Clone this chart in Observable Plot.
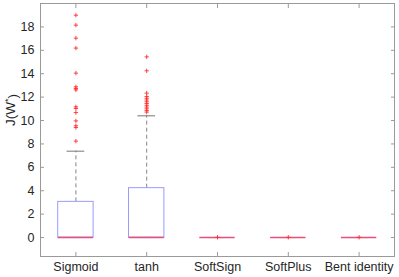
<!DOCTYPE html>
<html>
<head>
<meta charset="utf-8">
<script src="https://cdn.jsdelivr.net/npm/d3@7"></script>
<script src="https://cdn.jsdelivr.net/npm/@observablehq/plot@0.6"></script>
<style>
  html, body { margin: 0; padding: 0; background: #fff; }
  #chart svg { display: block; }
</style>
</head>
<body>
<div id="chart"></div>
<script>
// Categories and box statistics
const names = ["Sigmoid", "tanh", "SoftSign", "SoftPlus", "Bent identity"];
const q1 = [0, 0, 0, 0, 0];
const medians = [0, 0, 0, 0, 0];
const q3 = [3.05, 4.22, 0, 0, 0];
const whiskerLow = [0, 0, 0, 0, 0];
const whiskerHigh = [7.38, 10.4, 0, 0, 0];

// Outliers per category
const sigmoidOutliers = [8.24, 9.4, 9.55, 9.97, 10.68, 11.03, 11.17, 12.62, 12.74, 12.88, 14.05, 16.19, 17.04, 18.15, 19.0];
const tanhOutliers = [10.72, 10.85, 11.0, 11.15, 11.3, 11.45, 11.6, 11.75, 11.9, 12.05, 12.34, 14.25, 15.44];
const softSignOutliers = [0.02];
const softPlusOutliers = [0.02];
const bentOutliers = [0.02];

const yTicks = [0, 2, 4, 6, 8, 10, 12, 14, 16, 18];

const boxes = names.map((n, i) => ({
  pos: i + 1, name: n, q1: q1[i], med: medians[i], q3: q3[i], lo: whiskerLow[i], hi: whiskerHigh[i]
}));
const outlierLists = [sigmoidOutliers, tanhOutliers, softSignOutliers, softPlusOutliers, bentOutliers];
const outliers = outlierLists.flatMap((arr, i) => arr.map(v => ({pos: i + 1, value: v})));

const boxHalf = 0.25, capHalf = 0.125;
const font = "'Liberation Sans', Arial, Helvetica, sans-serif";
const axisColor = "#9a9a9a";

const chart = Plot.plot({
  width: 399,
  height: 277,
  marginLeft: 40,
  marginRight: 5,
  marginTop: 3,
  marginBottom: 21,
  style: {fontFamily: font, fontSize: "12.5px", color: "#262626", background: "#fff"},
  x: {type: "linear", domain: [0.5, 5.5]},
  y: {domain: [-1.62, 20]},
  marks: [
    // whiskers (dashed)
    Plot.ruleX(boxes, {x: "pos", y1: "q3", y2: "hi", stroke: "#666", strokeWidth: 0.8, strokeDasharray: "4,3"}),
    Plot.ruleX(boxes, {x: "pos", y1: "lo", y2: "q1", stroke: "#666", strokeWidth: 0.8, strokeDasharray: "4,3"}),
    // whisker caps
    Plot.ruleY(boxes, {y: "hi", x1: d => d.pos - capHalf, x2: d => d.pos + capHalf, stroke: "#777", strokeWidth: 1}),
    Plot.ruleY(boxes, {y: "lo", x1: d => d.pos - capHalf, x2: d => d.pos + capHalf, stroke: "#777", strokeWidth: 1}),
    // boxes
    Plot.rect(boxes, {x1: d => d.pos - boxHalf, x2: d => d.pos + boxHalf, y1: "q1", y2: "q3", fill: "none", stroke: "#9a9aff", strokeWidth: 1}),
    // medians
    Plot.ruleY(boxes, {y: "med", x1: d => d.pos - boxHalf, x2: d => d.pos + boxHalf, stroke: "#e8507c", strokeWidth: 1.6}),
    // outliers
    Plot.dot(outliers, {x: "pos", y: "value", symbol: "plus", r: 1.5, stroke: "#ff3030", strokeWidth: 0.9}),
    // frame & axes
    Plot.frame({stroke: axisColor, strokeWidth: 1}),
    Plot.axisY({anchor: "left", ticks: yTicks, tickSize: -4, tickPadding: 10, label: null, stroke: axisColor, fontSize: "12.5px"}),
    Plot.axisY({anchor: "right", ticks: yTicks, tickSize: -4, tickFormat: () => "", label: null, stroke: axisColor}),
    Plot.axisX({anchor: "bottom", ticks: [1, 2, 3, 4, 5], tickSize: -4, tickPadding: 10, tickFormat: d => names[d - 1], label: null, stroke: axisColor, fontSize: "12.5px"}),
    Plot.axisX({anchor: "top", ticks: [1, 2, 3, 4, 5], tickSize: -4, tickFormat: () => "", label: null, stroke: axisColor}),
    // y label
    Plot.text(["J(W*)"], {frameAnchor: "left", dx: -30, dy: -4, rotate: -90, text: d => d, fontSize: 13.5, fill: "#262626", className: "ylab"})
  ]
});

document.getElementById("chart").appendChild(chart);

// Make the asterisk a superscript
const lab = chart.querySelector("g.ylab text");
if (lab) {
  lab.textContent = "";
  const ns = "http://www.w3.org/2000/svg";
  const t1 = document.createElementNS(ns, "tspan"); t1.textContent = "J(W";
  const t2 = document.createElementNS(ns, "tspan"); t2.textContent = "*"; t2.setAttribute("dy", "-0.45em"); t2.setAttribute("font-size", "9");
  const t3 = document.createElementNS(ns, "tspan"); t3.textContent = ")"; t3.setAttribute("dy", "0.45em");
  lab.append(t1, t2, t3);
}
</script>
</body>
</html>
